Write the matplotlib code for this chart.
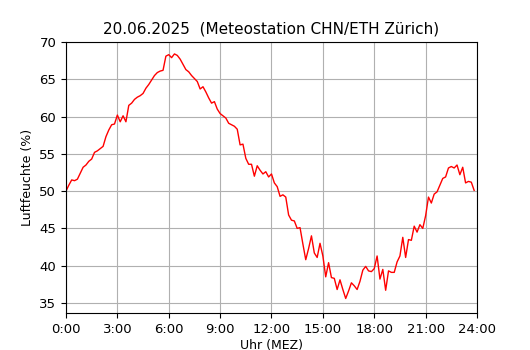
import matplotlib
matplotlib.use("Agg")
import matplotlib.pyplot as plt
import numpy as np

# relative Luftfeuchte, 10-Minuten-Werte (0:00 .. 23:50)
feuchte = [
    50.0, 50.8, 51.5, 51.4, 51.6, 52.4, 53.2, 53.5, 54.0, 54.3, 55.2, 55.4,
    55.7, 56.0, 57.3, 58.2, 58.9, 59.0, 60.2, 59.3, 60.1, 59.3, 61.5, 61.8,
    62.3, 62.6, 62.8, 63.1, 63.8, 64.3, 64.9, 65.5, 65.9, 66.1, 66.2, 68.1,
    68.3, 67.9, 68.4, 68.2, 67.7, 67.0, 66.3, 66.0, 65.5, 65.1, 64.7, 63.7,
    64.0, 63.3, 62.5, 61.8, 62.0, 61.0, 60.4, 60.1, 59.8, 59.1, 58.9, 58.7,
    58.3, 56.2, 56.3, 54.4, 53.6, 53.6, 52.0, 53.4, 52.8, 52.3, 52.6, 51.9,
    52.3, 51.1, 50.6, 49.3, 49.5, 49.2, 46.8, 46.1, 46.0, 45.0, 45.1, 42.9,
    40.8, 42.3, 44.0, 41.7, 41.1, 43.0, 41.3, 38.5, 40.4, 38.4, 38.3, 36.8,
    38.1, 36.8, 35.6, 36.6, 37.7, 37.3, 36.8, 37.9, 39.4, 39.9, 39.3, 39.2,
    39.6, 41.3, 38.2, 39.5, 36.7, 39.3, 39.1, 39.1, 40.5, 41.3, 43.8, 41.1,
    43.5, 43.4, 45.3, 44.5, 45.5, 45.0, 46.7, 49.2, 48.4, 49.6, 49.9, 50.8,
    51.7, 51.9, 53.1, 53.3, 53.1, 53.5, 52.2, 53.2, 51.1, 51.3, 51.2, 50.1,
]
stunden = np.arange(len(feuchte)) / 6.0

xticks = [0, 3, 6, 9, 12, 15, 18, 21, 24]
xlabels = [f"{h}:00" for h in xticks]

plt.rcParams["font.size"] = 9

fig = plt.figure(figsize=(5.3, 3.5), dpi=100)
ax = fig.add_axes([0.1245, 0.1057, 0.7755, 0.7743])
ax.plot(stunden, feuchte, color="red", linewidth=1)
ax.set_xlim(0, 24)
ax.set_ylim(min(feuchte) - 1.95, 70)
ax.set_xticks(xticks)
ax.set_xticklabels(xlabels)
ax.set_yticks(range(35, 71, 5))
ax.tick_params(labelsize=9.5)
ax.grid(True, color="#b0b0b0")
ax.set_axisbelow(True)
ax.set_xlabel("Uhr (MEZ)", labelpad=2)
ax.set_ylabel("Luftfeuchte (%)")
ax.set_title("20.06.2025  (Meteostation CHN/ETH Zürich)", fontsize=11)
fig.savefig("out.png", dpi=100)
